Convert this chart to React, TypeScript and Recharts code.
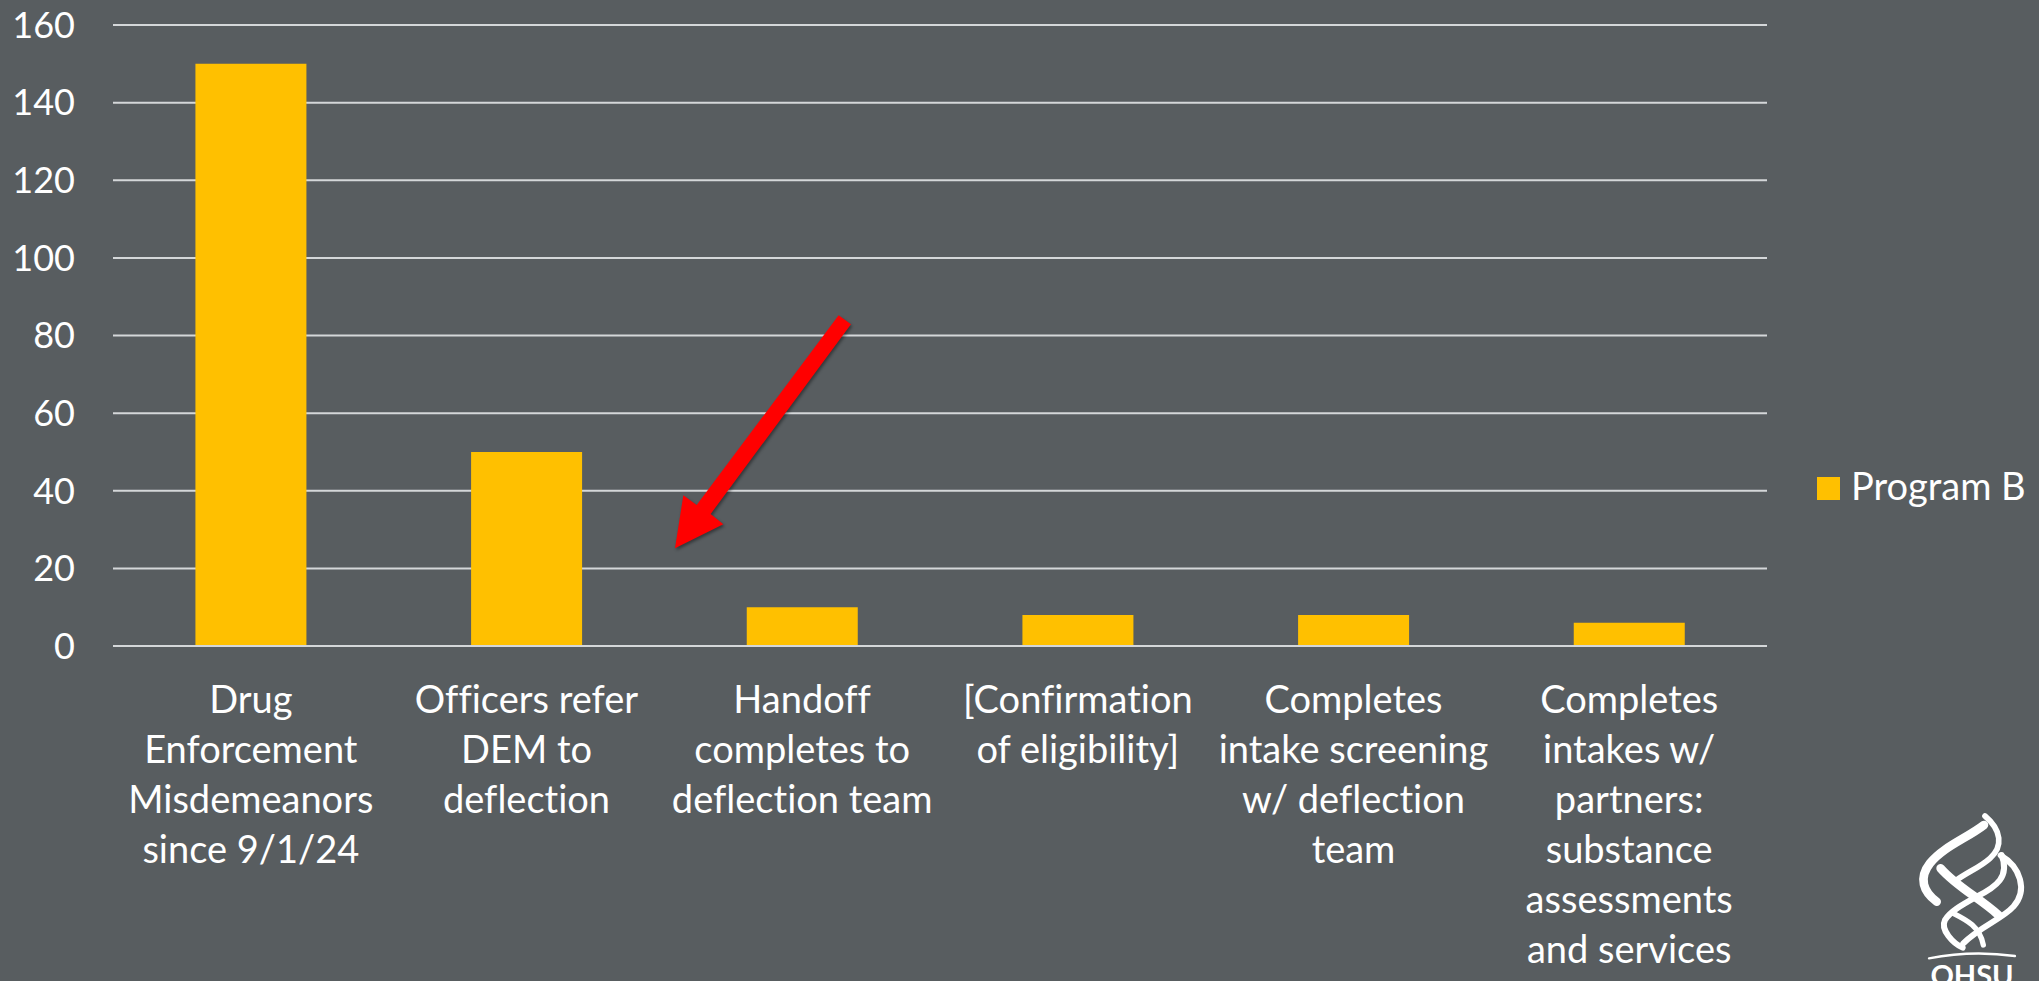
import { BarChart, Bar, XAxis, YAxis, CartesianGrid, Legend } from 'recharts'

const categories = [
  'Drug\nEnforcement\nMisdemeanors\nsince 9/1/24',
  'Officers refer\nDEM to\ndeflection',
  'Handoff\ncompletes to\ndeflection team',
  '[Confirmation\nof eligibility]',
  'Completes\nintake screening\nw/ deflection\nteam',
  'Completes\nintakes w/\npartners:\nsubstance\nassessments\nand services',
]
const programB = [150, 50, 10, 8, 8, 6]
const yTicks = [0, 20, 40, 60, 80, 100, 120, 140, 160]

const data = categories.map((category, i) => ({ category, programB: programB[i] }))

const FONT = 'Lato, sans-serif'
const BG = '#585D60'
const GRID = '#D4D7D9'
const TEXT = '#FFFFFF'

function CategoryTick({ x, y, payload }: any) {
  const lines = String(payload.value).split('\n')
  return (
    <text x={x} y={y} textAnchor="middle" fill={TEXT} fontFamily={FONT} fontSize={38} style={{ fontVariantLigatures: 'none' }}>
      {lines.map((line, i) => (
        <tspan key={i} x={x} dy={i === 0 ? 0 : 50}>{line}</tspan>
      ))}
    </text>
  )
}

function LegendContent({ payload }: any) {
  return (
    <div style={{ display: 'flex', alignItems: 'center', height: 46 }}>
      {(payload || []).map((entry: any) => (
        <div key={entry.value} style={{ display: 'flex', alignItems: 'center' }}>
          <span style={{ width: 23, height: 23, background: entry.color, display: 'inline-block' }} />
          <span style={{ color: TEXT, fontFamily: FONT, fontSize: 38, marginLeft: 11, whiteSpace: 'nowrap', position: 'relative', top: -3 }}>{entry.value}</span>
        </div>
      ))}
    </div>
  )
}

// red callout arrow and the logo sit on top of the chart, they are not data
function Overlay() {
  return (
    <svg width={2039} height={981} style={{ position: 'absolute', left: 0, top: 0, pointerEvents: 'none' }}>
      <g transform="translate(600,290) scale(0.3333)" style={{ filter: 'drop-shadow(4px 6px 5px rgba(0,0,0,0.4))' }}>
        <polygon points="716,76 753,103 332,672 370,703 225,775 250,616 290,645" fill="#FF0000" />
      </g>
      <g transform="translate(1780,780) scale(0.3333)" fill="none" stroke="#FFFFFF" strokeLinecap="round">
        <path d="M615 108 C665 150 670 200 630 235 C600 262 565 275 530 300" strokeWidth={17} />
        <path d="M612 135 C560 175 490 200 450 250 C415 295 430 335 470 365" strokeWidth={26} />
        <path d="M482 265 C530 320 600 355 655 405" strokeWidth={26} />
        <path d="M665 225 C690 290 650 320 590 350 C540 378 510 395 495 420 C480 450 520 490 548 503" strokeWidth={18} />
        <path d="M662 226 C720 260 745 330 700 380 C670 415 600 440 550 490" strokeWidth={18} />
        <path d="M520 400 C560 420 600 440 610 495" strokeWidth={16} />
        <path d="M447 535 Q575 510 705 528" strokeWidth={7} />
      </g>
      <text x={1972} y={986} textAnchor="middle" fill="#FFFFFF" fontFamily={FONT} fontWeight={700} fontSize={29}>OHSU</text>
    </svg>
  )
}

export default function App() {
  return (
    <div style={{ position: 'absolute', left: 0, top: 0, width: 2039, height: 981, background: BG, overflow: 'hidden' }}>
      <BarChart
        width={2039}
        height={981}
        data={data}
        margin={{ top: 25, right: 50, left: 0, bottom: 0 }}
        barCategoryGap="29.9%"
      >
        <CartesianGrid horizontal vertical={false} stroke={GRID} strokeWidth={2} />
        <XAxis
          dataKey="category"
          interval={0}
          height={335}
          tick={<CategoryTick />}
          tickLine={false}
          tickMargin={61}
          axisLine={{ stroke: GRID, strokeWidth: 2 }}
        />
        <YAxis
          width={113}
          domain={[0, 160]}
          ticks={yTicks}
          interval={0}
          axisLine={false}
          tickLine={false}
          tickMargin={32}
          tick={{ fill: TEXT, fontFamily: FONT, fontSize: 36 }}
        />
        <Legend
          layout="vertical"
          align="right"
          verticalAlign="middle"
          content={<LegendContent />}
          wrapperStyle={{ left: 1817, top: 465, width: 222 }}
        />
        <Bar dataKey="programB" name="Program B" fill="#FFC000" isAnimationActive={false} />
      </BarChart>
      <Overlay />
    </div>
  )
}
